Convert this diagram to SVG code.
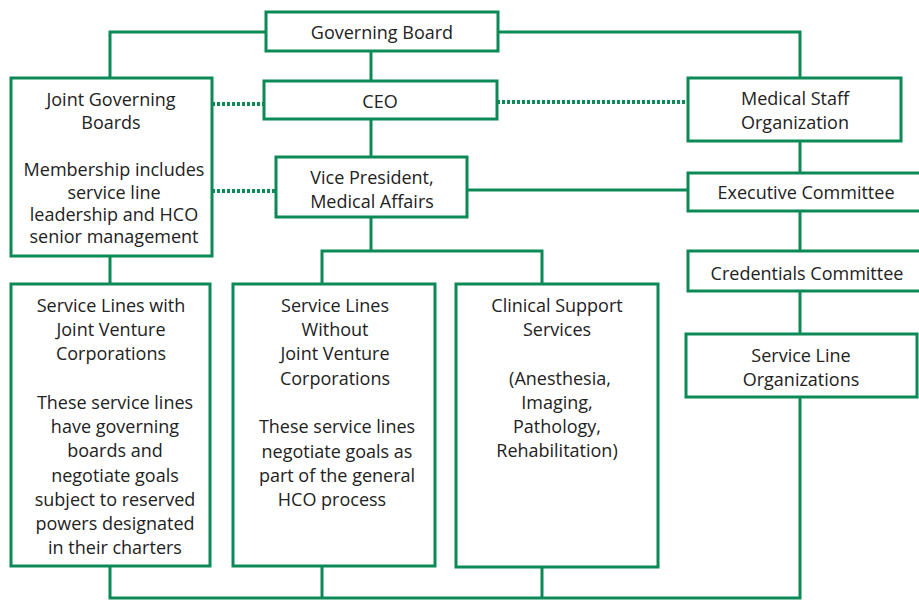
<svg xmlns="http://www.w3.org/2000/svg" width="919" height="600" viewBox="0 0 919 600">
<style>
.box{fill:#fff;stroke:#0b8a57;stroke-width:3}
.ln{fill:none;stroke:#0b8a57;stroke-width:3}
.dot{fill:none;stroke:#0b8a57;stroke-width:4;stroke-dasharray:3 2}
text{font-family:"Open Sans","Noto Sans",sans-serif;font-size:18px;fill:#222;text-anchor:middle}
</style>
<rect width="919" height="600" fill="#fff"/>
<g id="connectors">
<polyline class="ln" points="266,32 110,32 110,78"/>
<polyline class="ln" points="498,32 800,32 800,78"/>
<line class="ln" x1="371" y1="51" x2="371" y2="81"/>
<line class="ln" x1="371" y1="119" x2="371" y2="157"/>
<line class="dot" x1="212" y1="104" x2="264" y2="104"/>
<line class="dot" x1="497" y1="102" x2="688" y2="102"/>
<line class="dot" x1="212" y1="191" x2="276" y2="191"/>
<line class="ln" x1="467" y1="190" x2="688" y2="190"/>
<line class="ln" x1="800" y1="141" x2="800" y2="173"/>
<line class="ln" x1="800" y1="211" x2="800" y2="251"/>
<line class="ln" x1="800" y1="291" x2="800" y2="334"/>
<line class="ln" x1="371" y1="217" x2="371" y2="251"/>
<polyline class="ln" points="322,284 322,251 542,251 542,284"/>
<line class="ln" x1="110" y1="256" x2="110" y2="284"/>
<polyline class="ln" points="800,397 800,598 110,598 110,566"/>
<line class="ln" x1="322" y1="566" x2="322" y2="598"/>
<line class="ln" x1="542" y1="567" x2="542" y2="598"/>
</g>
<g id="governing-board"><rect class="box" x="266" y="12" width="232" height="39"/><text x="382" y="39">Governing Board</text></g>
<g id="ceo"><rect class="box" x="264" y="81" width="233" height="38"/><text x="380" y="108">CEO</text></g>
<g id="joint-governing-boards"><rect class="box" x="11" y="78" width="201" height="178"/>
<text x="111" y="106">Joint Governing</text><text x="111" y="129">Boards</text>
<text x="114" y="176">Membership includes</text><text x="114" y="199">service line</text><text x="114" y="221">leadership and HCO</text><text x="114" y="243">senior management</text></g>
<g id="vp"><rect class="box" x="276" y="157" width="191" height="60"/><text x="372" y="184">Vice President,</text><text x="372" y="208">Medical Affairs</text></g>
<g id="medical-staff"><rect class="box" x="688" y="78" width="213" height="63"/><text x="795" y="105">Medical Staff</text><text x="795" y="129">Organization</text></g>
<g id="executive-committee"><rect class="box" x="688" y="173" width="240" height="38"/><text x="806" y="199">Executive Committee</text></g>
<g id="credentials-committee"><rect class="box" x="688" y="251" width="240" height="40"/><text x="807" y="280">Credentials Committee</text></g>
<g id="service-line-orgs"><rect class="box" x="686" y="334" width="231" height="63"/><text x="801" y="362">Service Line</text><text x="801" y="386">Organizations</text></g>
<g id="sl-with-jv"><rect class="box" x="11" y="284" width="199" height="282"/>
<text x="111" y="312">Service Lines with</text><text x="111" y="336">Joint Venture</text><text x="111" y="360">Corporations</text>
<text x="115" y="409">These service lines</text><text x="115" y="433">have governing</text><text x="115" y="457">boards and</text><text x="115" y="482">negotiate goals</text><text x="115" y="506">subject to reserved</text><text x="115" y="530">powers designated</text><text x="115" y="554">in their charters</text></g>
<g id="sl-without-jv"><rect class="box" x="233" y="284" width="202" height="282"/>
<text x="335" y="312">Service Lines</text><text x="335" y="336">Without</text><text x="335" y="360">Joint Venture</text><text x="335" y="385">Corporations</text>
<text x="337" y="433">These service lines</text><text x="337" y="458">negotiate goals as</text><text x="337" y="482">part of the general</text><text x="332" y="506">HCO process</text></g>
<g id="clinical-support"><rect class="box" x="456" y="284" width="202" height="283"/>
<text x="557" y="312">Clinical Support</text><text x="557" y="336">Services</text>
<text x="560" y="385">(Anesthesia,</text><text x="557" y="409">Imaging,</text><text x="557" y="433">Pathology,</text><text x="557" y="457">Rehabilitation)</text></g>
</svg>
